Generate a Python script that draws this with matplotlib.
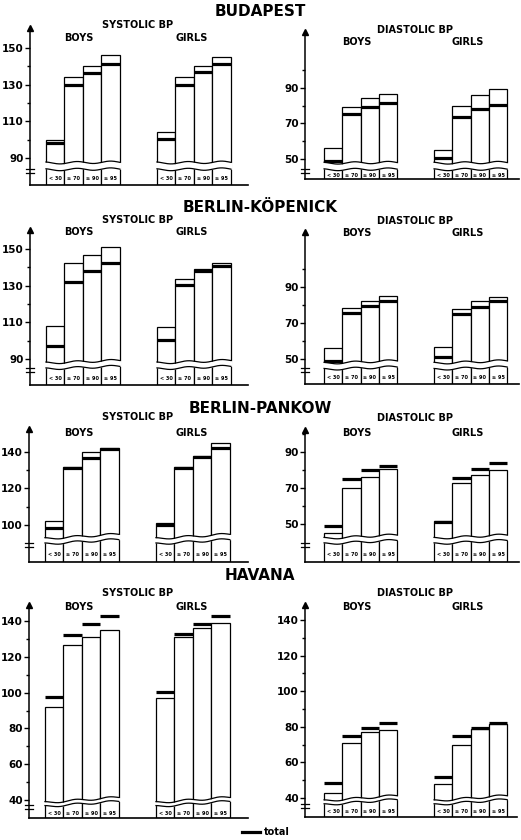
import numpy as np
import matplotlib.pyplot as plt

plt.rcParams['font.family'] = ['Liberation Sans Narrow', 'DejaVu Sans']
plt.rcParams['font.weight'] = 'bold'

cities = ["BUDAPEST", "BERLIN-KÖPENICK", "BERLIN-PANKOW", "HAVANA"]
groups = ["< 30", "≥ 70", "≥ 90", "≥ 95"]
sexes = ["BOYS", "GIRLS"]

# mean BP of each percentile group (boys, girls) and the total mean
budapest_sys = [[100, 134, 140, 146], [104, 134, 140, 145]]
budapest_sys_total = [[98, 130, 136.5, 141], [100.5, 130, 137, 141]]
budapest_dia = [[56, 79, 84.5, 86.5], [55, 80, 86, 89.5]]
budapest_dia_total = [[49, 75.5, 79.5, 81.5], [50.5, 73.5, 78, 80.5]]

kopenick_sys = [[108, 142.5, 146.5, 151], [107.5, 133.5, 139, 142.5]]
kopenick_sys_total = [[97, 132, 138, 142.5], [100.5, 130.5, 138, 141]]
kopenick_dia = [[56, 78.5, 82, 85], [56.5, 78, 82, 84.5]]
kopenick_dia_total = [[49, 75.5, 79.5, 82], [51, 75, 79, 82]]

pankow_sys = [[102, 132, 140, 142], [101, 132, 138, 145]]
pankow_sys_total = [[98.5, 131, 136.5, 141.5], [100, 131, 137, 142]]
pankow_dia = [[45, 70, 76, 80.5], [51.5, 73, 77, 80]]
pankow_dia_total = [[49, 75, 80, 82], [51, 75.5, 80.5, 84]]

havana_sys = [[92, 126.5, 131, 135], [97, 131, 136, 139]]
havana_sys_total = [[97.5, 132, 138.5, 143], [100.5, 132.5, 138.5, 143]]
havana_dia = [[43, 71, 77, 78], [48, 69.5, 78.5, 81.5]]
havana_dia_total = [[48.5, 75, 79.5, 82], [51.5, 75, 79.5, 82]]

W, H = 521, 840
fig = plt.figure(figsize=(W / 100, H / 100), dpi=100)
fig.patch.set_facecolor('white')


def fx(px):
    return px / W


def fy(py):
    return 1 - py / H


# axes box in pixels: left, right, baseline, top
panels = [
    (budapest_sys, budapest_sys_total, (30, 248, 185, 28), (75.3, 160.9), [90, 110, 130, 150], (87.3, 83.6), 0.5),
    (budapest_dia, budapest_dia_total, (305, 519, 179, 32), (38.7, 121.5), [50, 70, 90], (47.6, 43.9), 0.5),
    (kopenick_sys, kopenick_sys_total, (30, 248, 385, 230), (75.8, 160.4), [90, 110, 130, 150], (87.8, 84.6), 1.5),
    (kopenick_dia, kopenick_dia_total, (305, 519, 384, 232), (36.1, 120.6), [50, 70, 90], (47.6, 44.2), 1.5),
    (pankow_sys, pankow_sys_total, (29, 248, 562, 429), (79.7, 152.6), [100, 120, 140], (92.5, 89.6), 2.5),
    (pankow_dia, pankow_dia_total, (305, 519, 562, 430), (28.9, 102.2), [50, 70, 90], (42.0, 39.0), 2.0),
    (havana_sys, havana_sys_total, (29, 248, 818, 605), (30.0, 148.9), [40, 60, 80, 100, 120, 140], (38.6, 36.4), 3.0),
    (havana_dia, havana_dia_total, (305, 517, 817, 605), (29.3, 148.4), [40, 60, 80, 100, 120, 140], (38.4, 36.2), 3.0),
]

for k, (vals, tots, box, ylim, major, brk, rise) in enumerate(panels):
    left, right, base, top = box
    ax = fig.add_axes([fx(left), fy(base), fx(right - left), (base - top) / H])
    bar_px = 18.5 if k % 2 == 0 else 18.3
    xmax = (right - left) / bar_px
    starts = [0.86, 6.86] if k % 2 == 0 else [1.04, 7.05]
    ymin, ymax = ylim
    hi, lo = brk

    for g, x0 in enumerate(starts):
        xc = x0 + 0.5 + np.arange(len(groups))
        ax.bar(xc, np.array(vals[g]) - ymin, bottom=ymin, width=1,
               color='white', edgecolor='black', lw=0.9, zorder=2)
        ax.hlines(tots[g], xc - 0.5, xc + 0.5, color='black', lw=2.3, zorder=5)

        # scale break across the group
        xs = np.linspace(x0 - 0.08, x0 + 4.08, 300)
        w = 0.6 * np.sin(2 * np.pi * (xs - x0) / 1.8 + 2.0) + rise * (xs - x0) / 4
        ax.fill_between(xs, lo + w, hi + w, color='white', lw=0, zorder=3)
        inside = (xs >= x0) & (xs <= x0 + 4)
        ax.plot(xs[inside], hi + w[inside], color='black', lw=0.9, zorder=4)
        ax.plot(xs[inside], lo + w[inside], color='black', lw=0.9, zorder=4)

        for xi, lab in zip(xc, groups):
            ax.text(xi, ymin + (lo - ymin) * 0.42, lab, fontsize=3.6,
                    ha='center', va='center', zorder=6)

    # break mark on the y axis
    for yb in (lo + 0.6, lo - 1.6):
        ax.plot([-0.2, 0.2], [yb, yb], color='black', lw=0.9, clip_on=False, zorder=6)

    ax.set_xlim(0, xmax)
    ax.set_ylim(ymin, ymax)
    ax.set_yticks(major)
    minor = [m + 10 for m in major[:-1]]
    if k % 2 == 1 and k < 6:
        minor.append(major[-1] + 10)
    ax.set_yticks(minor, minor=True)
    ax.set_xticks([])
    ax.tick_params(axis='y', which='major', length=3.5, width=1, pad=1, labelsize=7.5)
    ax.tick_params(axis='y', which='minor', length=2, width=1)
    for lab in ax.get_yticklabels():
        lab.set_fontweight('bold')
    ax.spines['top'].set_visible(False)
    ax.spines['right'].set_visible(False)
    ax.spines['left'].set_linewidth(1.1)
    ax.spines['bottom'].set_linewidth(1.2)
    ax.plot([0], [1], marker='^', ms=4, color='black', transform=ax.transAxes,
            clip_on=False, zorder=6)
    ax.patch.set_alpha(0)

# city titles
for name, y in zip(cities, [12, 208, 408, 575]):
    fig.text(fx(260), fy(y), name, fontsize=11, ha='center', va='center', fontweight='bold')

# section headers
head_rows = [(25, 30, 38, 42), (220, 221, 232, 233), (417, 418, 433, 433), (593, 593, 607, 607)]
for ys, yd, yb_l, yb_r in head_rows:
    fig.text(fx(138), fy(ys), "SYSTOLIC BP", fontsize=7, ha='center', va='center')
    fig.text(fx(415), fy(yd), "DIASTOLIC BP", fontsize=7, ha='center', va='center')
    fig.text(fx(79), fy(yb_l), sexes[0], fontsize=7, ha='center', va='center')
    fig.text(fx(192), fy(yb_l), sexes[1], fontsize=7, ha='center', va='center')
    fig.text(fx(357), fy(yb_r), sexes[0], fontsize=7, ha='center', va='center')
    fig.text(fx(468), fy(yb_r), sexes[1], fontsize=7, ha='center', va='center')

# legend
fig.add_artist(plt.Line2D([fx(242), fx(260)], [fy(832), fy(832)], color='black', lw=2.3))
fig.text(fx(264), fy(832), "total", fontsize=7, ha='left', va='center')

fig.savefig('out.png', dpi=100, facecolor='white')
